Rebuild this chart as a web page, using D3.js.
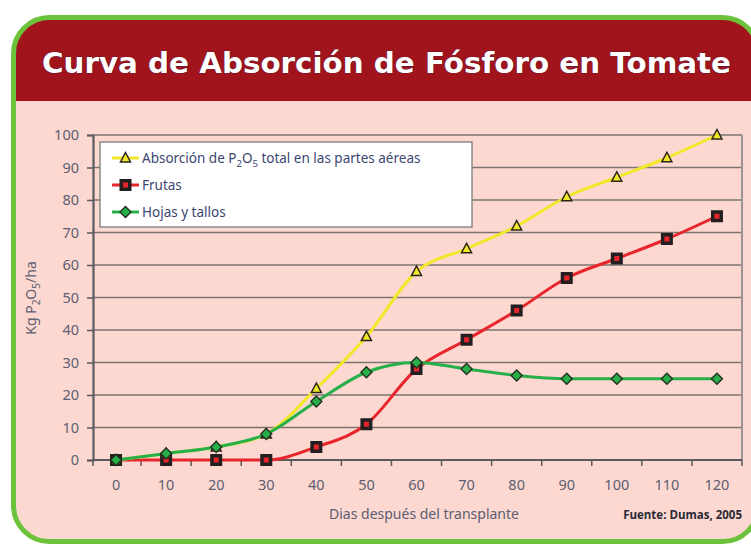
<!DOCTYPE html>
<html><head><meta charset="utf-8">
<script src="https://cdn.jsdelivr.net/npm/d3@7"></script>
<style>body{margin:0;background:#fff}svg{display:block}</style>
</head><body>
<svg id="c" width="751" height="544"></svg>
<script>
const days = [0,10,20,30,40,50,60,70,80,90,100,110,120];
const total = [0,2,4,8,22,38,58,65,72,81,87,93,100];
const frutas = [0,0,0,0,4,11,28,37,46,56,62,68,75];
const hojas = [0,2,4,8,18,27,30,28,26,25,25,25,25];
const yTicks = [0,10,20,30,40,50,60,70,80,90,100];

const svg = d3.select("#c");
const defs = svg.append("defs");
defs.append("clipPath").attr("id","frame")
  .append("rect").attr("x",13.5).attr("y",17.5).attr("width",745).attr("height",524).attr("rx",36);

svg.append("rect").attr("x",13.5).attr("y",17.5).attr("width",745).attr("height",524).attr("rx",36)
  .attr("fill","#fcd8d1");
svg.append("rect").attr("clip-path","url(#frame)").attr("x",0).attr("y",0).attr("width",760).attr("height",101)
  .attr("fill","#a2141b");
svg.append("rect").attr("x",13.5).attr("y",17.5).attr("width",745).attr("height",524).attr("rx",36)
  .attr("fill","none").attr("stroke","#6cc23a").attr("stroke-width",5);

svg.append("text").attr("x",42).attr("y",73)
  .attr("font-family","'DejaVu Sans', Lato, sans-serif").attr("font-weight","bold").attr("font-size",28)
  .attr("fill","#fff").attr("stroke","#3a1a40").attr("stroke-width",0.6).attr("paint-order","stroke")
  .attr("textLength",689).attr("lengthAdjust","spacingAndGlyphs")
  .text("Curva de Absorción de Fósforo en Tomate");

const L = 93, R = 742, T = 135, B = 460;
const x = d3.scaleBand().domain(days).range([L-2, R]);
const y = d3.scaleLinear().domain([0,100]).range([B, T]);
const cx = d => x(d) + x.bandwidth()/2;

const g = svg.append("g");
g.selectAll("line.grid").data(yTicks.filter(v=>v>0)).join("line")
  .attr("x1",L).attr("x2",R).attr("y1",d=>y(d)).attr("y2",d=>y(d))
  .attr("stroke","#7d7472").attr("stroke-width",1.6);
g.append("line").attr("x1",R).attr("x2",R).attr("y1",T).attr("y2",B).attr("stroke","#9a9494").attr("stroke-width",2);

const yAxis = svg.append("g").attr("transform",`translate(${L},0)`)
  .call(d3.axisLeft(y).tickValues(yTicks).tickSize(6).tickPadding(8));
yAxis.select(".domain").attr("stroke","#5a5a60").attr("stroke-width",2.2);
yAxis.selectAll(".tick line").attr("stroke","#5a5a60").attr("stroke-width",1.5);
yAxis.selectAll("text").attr("font-family","'Noto Sans', sans-serif").attr("font-size",14.5).attr("fill","#5c5e70");

const xAxis = svg.append("g").attr("transform",`translate(0,${B})`)
  .call(d3.axisBottom(x).tickSize(0).tickPadding(20));
xAxis.select(".domain").remove();
svg.append("line").attr("x1",L).attr("x2",R).attr("y1",B).attr("y2",B).attr("stroke","#5a5a60").attr("stroke-width",2);
svg.selectAll("line.xt").data(days.concat([null])).join("line").attr("class","xt")
  .attr("x1",(d,i)=> i<days.length ? x(d)+ (i===0?2:0) : R).attr("x2",(d,i)=> i<days.length ? x(d)+(i===0?2:0) : R)
  .attr("y1",B).attr("y2",B+6).attr("stroke","#5a5a60").attr("stroke-width",1.5);
xAxis.selectAll("text").attr("font-family","'Noto Sans', sans-serif").attr("font-size",14.5).attr("fill","#5c5e70");

svg.append("text").attr("x",424).attr("y",519).attr("text-anchor","middle")
  .attr("font-family","'Noto Sans', sans-serif").attr("font-size",14).attr("fill","#5c5e70")
  .text("Dias después del transplante");
svg.append("text").attr("x",742).attr("y",519).attr("text-anchor","end")
  .attr("font-family","'Open Sans', sans-serif").attr("font-weight","bold").attr("font-size",11.5).attr("fill","#2a2a35")
  .text("Fuente: Dumas, 2005");
const yl = svg.append("text").attr("transform","translate(36,298) rotate(-90)").attr("text-anchor","middle")
  .attr("font-family","'Noto Sans', sans-serif").attr("font-size",14).attr("fill","#5c5e70");
yl.append("tspan").text("Kg P");
yl.append("tspan").attr("font-size",10).attr("dy",4).text("2");
yl.append("tspan").attr("dy",-4).text("O");
yl.append("tspan").attr("font-size",10).attr("dy",4).text("5");
yl.append("tspan").attr("dy",-4).text("/ha");

const series = [
  {name:"total", values: total, color:"#f2e82a", marker:"tri"},
  {name:"frutas", values: frutas, color:"#e8252b", marker:"sq"},
  {name:"hojas", values: hojas, color:"#27b04a", marker:"dia"}
];
const line = d3.line().x((d,i)=>cx(days[i])).y(d=>y(d)).curve(d3.curveMonotoneX);
function drawMarker(sel, type, color){
  if(type==="tri"){
    sel.append("path").attr("d","M0,-5.5 L5,4 L-5,4 Z").attr("fill",color).attr("stroke","#2a2418").attr("stroke-width",1.5);
  } else if(type==="sq"){
    sel.append("rect").attr("x",-6).attr("y",-6).attr("width",12).attr("height",12).attr("fill","#231f20");
    sel.append("rect").attr("x",-2.5).attr("y",-2.5).attr("width",5).attr("height",5).attr("fill",color);
  } else {
    sel.append("path").attr("d","M0,-5.5 L5.5,0 L0,5.5 L-5.5,0 Z").attr("fill",color).attr("stroke","#25301f").attr("stroke-width",1.4);
  }
}
const drawOrder = [series[1], series[0], series[2]];
drawOrder.forEach(s=>{
  svg.append("path").datum(s.values).attr("d",line).attr("fill","none").attr("stroke",s.color).attr("stroke-width",3);
});
drawOrder.forEach(s=>{
  s.values.forEach((v,i)=>{
    const m = svg.append("g").attr("transform",`translate(${cx(days[i])},${y(v)})`);
    drawMarker(m, s.marker, s.color);
  });
});

const lg = svg.append("g");
lg.append("rect").attr("x",100).attr("y",142).attr("width",372).attr("height",85)
  .attr("fill","#fff").attr("stroke","#8a8a8a").attr("stroke-width",1.5);
const legendItems = [
  {s:series[0], y:158},
  {s:series[1], y:185},
  {s:series[2], y:212}
];
legendItems.forEach(it=>{
  lg.append("line").attr("x1",112).attr("x2",139).attr("y1",it.y).attr("y2",it.y).attr("stroke",it.s.color).attr("stroke-width",3);
  const m = lg.append("g").attr("transform",`translate(125.5,${it.y})`);
  drawMarker(m, it.s.marker, it.s.color);
});
const tf = "'Noto Sans', sans-serif";
const t1 = lg.append("text").attr("x",142).attr("y",163).attr("font-family",tf).attr("font-size",13.5).attr("fill","#3c4670");
t1.append("tspan").text("Absorción de P");
t1.append("tspan").attr("font-size",9.5).attr("dy",4).text("2");
t1.append("tspan").attr("dy",-4).text("O");
t1.append("tspan").attr("font-size",9.5).attr("dy",4).text("5");
t1.append("tspan").attr("dy",-4).text(" total en las partes aéreas");
lg.append("text").attr("x",142).attr("y",190).attr("font-family",tf).attr("font-size",13.5).attr("fill","#3c4670").text("Frutas");
lg.append("text").attr("x",142).attr("y",217).attr("font-family",tf).attr("font-size",13.5).attr("fill","#3c4670").text("Hojas y tallos");
</script>
</body></html>
